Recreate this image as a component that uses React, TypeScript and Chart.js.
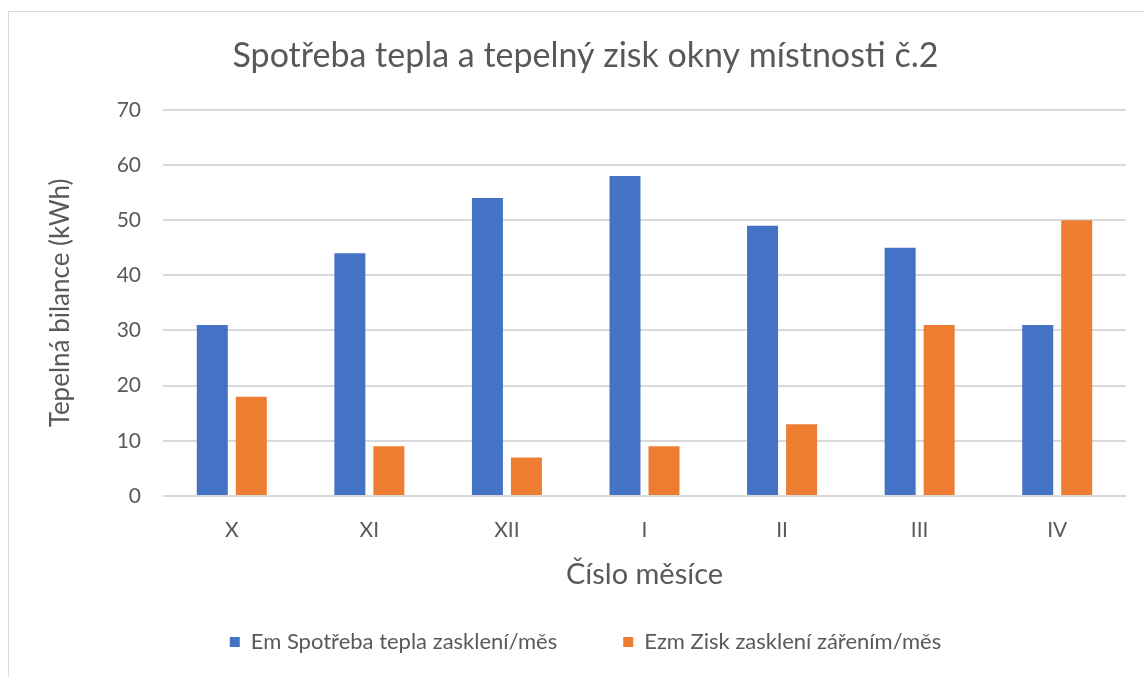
import React, { useEffect, useRef } from "react";
import { Chart, registerables } from "chart.js";

Chart.register(...registerables);

const months = ["X", "XI", "XII", "I", "II", "III", "IV"];
const emValues = [31, 44, 54, 58, 49, 45, 31];
const ezmValues = [18, 9, 7, 9, 13, 31, 50];
const emLabel = "Em Spotřeba tepla zasklení/měs";
const ezmLabel = "Ezm Zisk zasklení zářením/měs";
const titleText = "Spotřeba tepla a tepelný zisk okny místnosti č.2";
const yTitle = "Tepelná bilance (kWh)";
const xTitle = "Číslo měsíce";

const FONT = "Lato, 'Open Sans', sans-serif";
const TEXT = "#595959";

export default function App() {
  const ref = useRef<HTMLCanvasElement | null>(null);
  useEffect(() => {
    if (!ref.current) return;
    const chart = new Chart(ref.current, {
      type: "bar",
      data: {
        labels: months,
        datasets: [
          {
            label: emLabel,
            data: emValues,
            backgroundColor: "#4472C4",
            categoryPercentage: 0.567,
            barPercentage: 0.795,
          },
          {
            label: ezmLabel,
            data: ezmValues,
            backgroundColor: "#ED7D31",
            categoryPercentage: 0.567,
            barPercentage: 0.795,
          },
        ],
      },
      options: {
        responsive: false,
        animation: false,
        layout: { padding: { left: 36, right: 18, top: 0, bottom: 14 } },
        plugins: {
          title: {
            display: true,
            text: titleText,
            color: TEXT,
            font: { family: FONT, size: 34, weight: "normal" },
            padding: { top: 24, bottom: 33 },
          },
          legend: {
            position: "bottom",
            labels: {
              color: TEXT,
              font: { family: FONT, size: 22 },
              boxWidth: 10,
              boxHeight: 10,
              padding: 22,
              generateLabels: (c: any) => {
                const items = Chart.defaults.plugins.legend.labels.generateLabels(c);
                return items.map((it: any, i: number) =>
                  i < items.length - 1 ? { ...it, text: it.text + "\u2002\u2002\u2002\u2002" } : it
                );
              },
            },
          },
          tooltip: { enabled: false },
        },
        scales: {
          x: {
            grid: { display: false, drawTicks: false },
            border: { display: false },
            ticks: { color: TEXT, font: { family: FONT, size: 21 }, padding: 22 },
            title: {
              display: true,
              text: xTitle,
              color: TEXT,
              font: { family: FONT, size: 29 },
              padding: { top: 0, bottom: 17 },
            },
            afterFit: (s: any) => {
              s.height = 113;
            },
          },
          y: {
            min: 0,
            max: 70,
            ticks: { stepSize: 10, color: TEXT, font: { family: FONT, size: 21 }, padding: 22 },
            grid: { color: "#d9d9d9", lineWidth: 2, drawTicks: false },
            border: { display: false },
            title: {
              display: true,
              text: yTitle,
              color: TEXT,
              font: { family: FONT, size: 26 },
              padding: { top: 0, bottom: 0 },
            },
            afterFit: (s: any) => {
              s.width = 118;
            },
          },
        },
      },
    });
    return () => chart.destroy();
  }, []);
  return (
    <div
      style={{
        position: "absolute",
        left: 8,
        top: 11,
        width: 1136,
        height: 666,
        borderTop: "1px solid #d9d9d9",
        borderLeft: "1px solid #d9d9d9",
        boxSizing: "border-box",
        background: "#fff",
        overflow: "hidden",
      }}
    >
      <canvas ref={ref} width={1135} height={665} style={{ display: "block" }} />
    </div>
  );
}
